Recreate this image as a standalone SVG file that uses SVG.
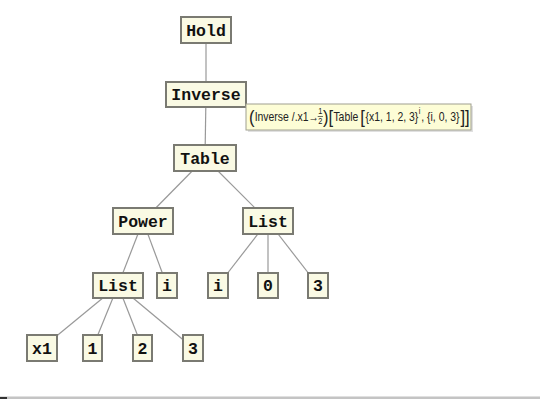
<svg xmlns="http://www.w3.org/2000/svg" width="540" height="403" viewBox="0 0 540 403">
<style>
.n rect{fill:#fafae4;stroke:#7a7a72;stroke-width:2}
.n text{font-family:"Liberation Mono",monospace;font-weight:bold;font-size:16.5px;fill:#111;text-anchor:middle}
.e line{stroke:#999;stroke-width:1.2}
.tt{font-family:"Liberation Sans",Arial,sans-serif;font-size:12px;fill:#222}
.tt.b{font-size:19px}
.tt.s{font-size:8.5px}
</style>
<rect width="540" height="403" fill="#fff"/>
<g class="e" id="connectors">
<line x1="206" y1="30" x2="206" y2="94.5"/>
<line x1="206" y1="94.5" x2="205" y2="158"/>
<line x1="205" y1="158" x2="143" y2="221"/>
<line x1="205" y1="158" x2="268" y2="221"/>
<line x1="143" y1="221" x2="118" y2="285.5"/>
<line x1="143" y1="221" x2="167" y2="285.5"/>
<line x1="268" y1="221" x2="218" y2="285.5"/>
<line x1="268" y1="221" x2="268" y2="285.5"/>
<line x1="268" y1="221" x2="318" y2="285.5"/>
<line x1="118" y1="285.5" x2="42" y2="348"/>
<line x1="118" y1="285.5" x2="92.5" y2="348"/>
<line x1="118" y1="285.5" x2="142.5" y2="348"/>
<line x1="118" y1="285.5" x2="193" y2="348"/>
</g>
<g class="n" id="hold"><rect x="181" y="17" width="50" height="26"/><text x="206" y="35.5">Hold</text></g>
<g class="n" id="inverse"><rect x="166" y="82" width="80" height="25"/><text x="206" y="100">Inverse</text></g>
<g class="n" id="table"><rect x="174" y="145" width="62" height="26"/><text x="205" y="163.5">Table</text></g>
<g class="n" id="power"><rect x="113" y="208" width="60" height="26"/><text x="143" y="226.5">Power</text></g>
<g class="n" id="listR"><rect x="243" y="208" width="50" height="26"/><text x="268" y="226.5">List</text></g>
<g class="n" id="listL"><rect x="93" y="273" width="50" height="25"/><text x="118" y="291">List</text></g>
<g class="n" id="iP"><rect x="157" y="273" width="20" height="25"/><text x="167" y="291">i</text></g>
<g class="n" id="iL"><rect x="208" y="273" width="20" height="25"/><text x="218" y="291">i</text></g>
<g class="n" id="zero"><rect x="258" y="273" width="20" height="25"/><text x="268" y="291">0</text></g>
<g class="n" id="threeA"><rect x="308" y="273" width="20" height="25"/><text x="318" y="291">3</text></g>
<g class="n" id="x1"><rect x="27" y="335" width="30" height="26"/><text x="42" y="353.5">x1</text></g>
<g class="n" id="one"><rect x="83" y="335" width="19" height="26"/><text x="92.5" y="353.5">1</text></g>
<g class="n" id="two"><rect x="133" y="335" width="19" height="26"/><text x="142.5" y="353.5">2</text></g>
<g class="n" id="threeB"><rect x="183" y="335" width="20" height="26"/><text x="193" y="353.5">3</text></g>
<g id="tooltip">
<rect x="248" y="106" width="225" height="26" fill="#000" opacity="0.12"/>
<rect x="246" y="104" width="225" height="26" fill="#fdfdd6" stroke="#a0a090" stroke-width="1"/>
<g transform="translate(249,0) scale(0.87,1)">
<text class="tt b" x="0" y="123.5">(</text>
<text class="tt" x="6.5" y="121">Inverse /.x1→</text>
<text class="tt s" x="82" y="114.5" text-anchor="middle">1</text>
<line x1="79" y1="116.5" x2="85" y2="116.5" stroke="#222" stroke-width="0.7"/>
<text class="tt s" x="82" y="124" text-anchor="middle">2</text>
<text class="tt b" x="85" y="123.5">)[</text>
<text class="tt" x="97" y="121">Table</text>
<text class="tt b" x="128" y="123.5">[</text>
<text class="tt" x="134" y="121">{x1, 1, 2, 3}</text>
<text class="tt s" x="195" y="114.5">i</text>
<text class="tt" x="198" y="121">, {i, 0, 3}</text>
<text class="tt b" x="243" y="123.5">]]</text>
</g>
</g>
<g id="bottom">
<rect x="0" y="396" width="540" height="1" fill="#e0e0e0"/>
<rect x="0" y="397" width="540" height="2" fill="#c4c4c4"/>
<rect x="0" y="397" width="7" height="2" fill="#333"/>
</g>
</svg>
